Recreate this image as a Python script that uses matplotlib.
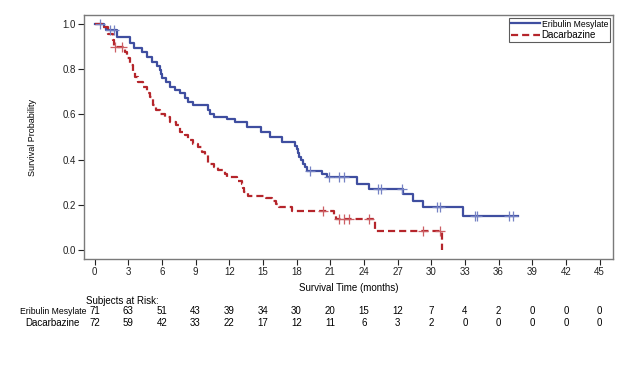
import numpy as np
import matplotlib
matplotlib.use("Agg")
import matplotlib.pyplot as plt

# Kaplan-Meier steps: (time of drop, survival after drop)
eribulin_times = [0.8, 1.0, 2.0, 3.2, 3.5, 4.2, 4.65, 5.1, 5.6, 5.85, 5.95, 6.05, 6.4,
                  6.75, 7.2, 7.6, 8.05, 8.3, 8.8, 10.1, 10.3, 10.6, 11.8, 12.5, 13.6,
                  14.8, 15.6, 16.7, 17.9, 18.0, 18.1, 18.25, 18.4, 18.55, 18.75, 18.95,
                  20.3, 20.7, 23.4, 24.5, 27.5, 28.4, 29.3, 32.8]
eribulin_surv = [0.986, 0.972, 0.944, 0.915, 0.893, 0.878, 0.856, 0.834, 0.816, 0.797,
                 0.78, 0.76, 0.745, 0.723, 0.71, 0.693, 0.673, 0.655, 0.641, 0.619,
                 0.604, 0.59, 0.582, 0.567, 0.545, 0.523, 0.50, 0.478, 0.462, 0.446,
                 0.43, 0.414, 0.398, 0.382, 0.367, 0.352, 0.338, 0.323, 0.293, 0.271,
                 0.249, 0.219, 0.193, 0.153]
eribulin_end = 37.7
eribulin_censor = [0.5, 1.35, 1.7, 19.2, 20.9, 21.8, 22.2, 25.3, 25.5, 27.4, 30.5, 30.8,
                   33.9, 34.1, 36.9, 37.3]

dacarb_times = [0.7, 1.2, 1.6, 1.75, 2.7, 2.9, 3.15, 3.4, 3.6, 3.9, 4.3, 4.65, 4.95,
                5.25, 5.5, 5.85, 6.3, 6.75, 7.3, 7.6, 8.05, 8.35, 8.8, 9.25, 9.55, 9.85,
                10.15, 10.6, 11.0, 11.6, 11.8, 12.7, 13.1, 13.2, 13.35, 13.7, 15.3, 15.8,
                16.2, 16.4, 17.6, 21.3, 21.5, 25.0, 31.0]
dacarb_surv = [0.986, 0.958, 0.93, 0.90, 0.878, 0.848, 0.819, 0.79, 0.767, 0.745, 0.723,
               0.693, 0.678, 0.641, 0.619, 0.604, 0.589, 0.567, 0.552, 0.523, 0.508,
               0.486, 0.471, 0.456, 0.434, 0.419, 0.382, 0.367, 0.353, 0.338, 0.323,
               0.308, 0.293, 0.274, 0.256, 0.241, 0.23, 0.219, 0.204, 0.19, 0.175,
               0.156, 0.138, 0.086, 0.0]
dacarb_censor = [1.85, 2.45, 20.4, 21.8, 22.2, 22.7, 24.5, 29.3, 30.8]

risk_times = [0, 3, 6, 9, 12, 15, 18, 21, 24, 27, 30, 33, 36, 39, 42, 45]
eribulin_risk = [71, 63, 51, 43, 39, 34, 30, 20, 15, 12, 7, 4, 2, 0, 0, 0]
dacarb_risk = [72, 59, 42, 33, 22, 17, 12, 11, 6, 3, 2, 0, 0, 0, 0, 0]

BLUE = "#3f4ea0"
RED = "#b5252b"
NARROW = ["Liberation Sans Narrow", "Liberation Sans"]

plt.rcParams["font.family"] = ["Liberation Sans", "DejaVu Sans"]


def step_curve(times, surv, end=None):
    x = [0.0] + list(times)
    y = [1.0] + list(surv)
    if end is not None:
        x.append(end)
        y.append(y[-1])
    return np.array(x), np.array(y)


def value_at(x, y, t):
    idx = np.searchsorted(x, t, side="right") - 1
    return y[idx]


fig = plt.figure(figsize=(6.31, 3.71), dpi=100)
ax = fig.add_axes([84 / 631, 1 - 259 / 371, (613 - 84) / 631, (259 - 15) / 371])

ex, ey = step_curve(eribulin_times, eribulin_surv, eribulin_end)
dx, dy = step_curve(dacarb_times, dacarb_surv)

ax.step(ex, ey, where="post", color=BLUE, lw=1.6, label="Eribulin Mesylate")
ax.step(dx, dy, where="post", color=RED, lw=1.6, linestyle=(0, (3.2, 1.8)), label="Dacarbazine")

ax.plot(eribulin_censor, [value_at(ex, ey, t) for t in eribulin_censor], ls="none",
        marker="+", ms=7, mew=0.9, color="#7582c4")
ax.plot(dacarb_censor, [value_at(dx, dy, t) for t in dacarb_censor], ls="none",
        marker="+", ms=7, mew=0.9, color="#cc5f64")

ax.set_xlim(-0.94, 46.2)
ax.set_ylim(-0.039, 1.04)
ax.set_xticks(risk_times)
ax.set_yticks(np.arange(0, 1.01, 0.2))
ax.set_yticklabels([f"{v:.1f}" for v in np.arange(0, 1.01, 0.2)])
ax.tick_params(direction="out", length=4, width=0.8, labelsize=7, colors="#222222", pad=2)
for sp in ax.spines.values():
    sp.set_color("#7a7a7a")
    sp.set_linewidth(1.0)

ax.set_xlabel("Survival Time (months)", fontsize=7, labelpad=4)
ax.set_ylabel("Survival Probability", fontsize=6.5, labelpad=18, family=NARROW)

leg = ax.legend(loc="upper right", fontsize=7, frameon=True, fancybox=False,
                borderpad=0.2, labelspacing=0.15, handlelength=3.0, handletextpad=0.2,
                borderaxespad=0.3)
leg.get_frame().set_edgecolor("#333333")
leg.get_frame().set_linewidth(0.8)
leg.get_texts()[0].set_fontsize(6.2)
leg.get_texts()[0].set_family(NARROW)

# subjects at risk table
fig.text(86 / 631, 1 - 301 / 371, "Subjects at Risk:", fontsize=7, ha="left", va="center")
fig.text(87 / 631, 1 - 311 / 371, "Eribulin Mesylate", fontsize=6.2, ha="right", va="center",
         family=NARROW)
fig.text(80 / 631, 1 - 323.5 / 371, "Dacarbazine", fontsize=7, ha="right", va="center")
for t, n1, n2 in zip(risk_times, eribulin_risk, dacarb_risk):
    xf = fig.transFigure.inverted().transform(ax.transData.transform((t, 0)))[0]
    fig.text(xf, 1 - 311 / 371, str(n1), fontsize=7, ha="center", va="center")
    fig.text(xf, 1 - 323.5 / 371, str(n2), fontsize=7, ha="center", va="center")

fig.savefig("out.png", dpi=100)
